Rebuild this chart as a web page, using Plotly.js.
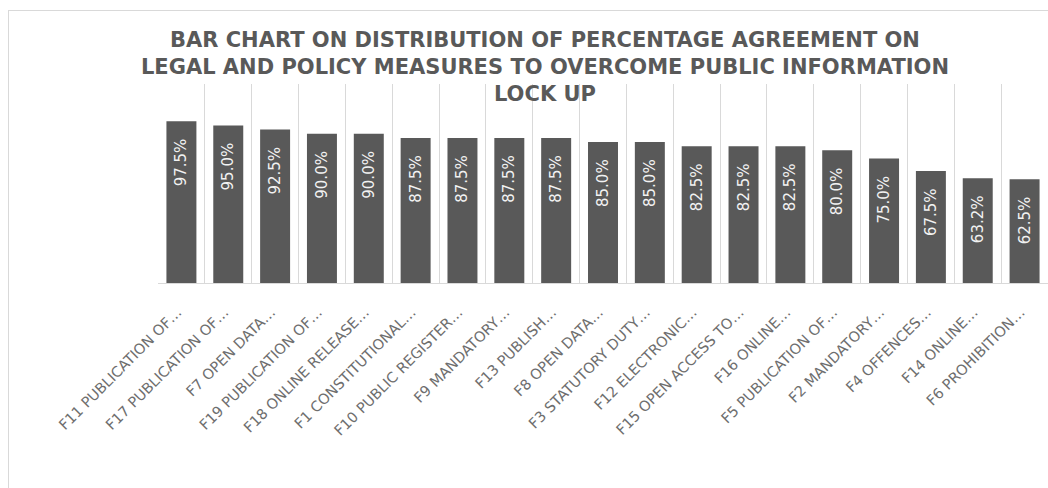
<!DOCTYPE html>
<html>
<head>
<meta charset="utf-8">
<script src="https://cdn.plot.ly/plotly-3.0.1.min.js"></script>
<style>
  html, body { margin: 0; padding: 0; width: 1048px; height: 488px; overflow: hidden; background: #fff; }
  #frame { position: absolute; left: 8px; top: 10px; width: 1100px; height: 600px; border: 1px solid #d9d9d9; box-sizing: border-box; }
  #chart { position: absolute; left: 0; top: 0; width: 1048px; height: 488px; }
</style>
</head>
<body>
<div id="frame"></div>
<div id="chart"></div>
<script>
const categories = [
  "F11 PUBLICATION OF…",
  "F17 PUBLICATION OF…",
  "F7 OPEN DATA…",
  "F19 PUBLICATION OF…",
  "F18 ONLINE RELEASE…",
  "F1 CONSTITUTIONAL…",
  "F10 PUBLIC REGISTER…",
  "F9 MANDATORY…",
  "F13 PUBLISH…",
  "F8 OPEN DATA…",
  "F3 STATUTORY DUTY…",
  "F12 ELECTRONIC…",
  "F15 OPEN ACCESS TO…",
  "F16 ONLINE…",
  "F5 PUBLICATION OF…",
  "F2 MANDATORY…",
  "F4 OFFENCES…",
  "F14 ONLINE…",
  "F6 PROHIBITION…"
];
const agreementPct = [97.5, 95.0, 92.5, 90.0, 90.0, 87.5, 87.5, 87.5, 87.5, 85.0, 85.0, 82.5, 82.5, 82.5, 80.0, 75.0, 67.5, 63.2, 62.5];
const chartTitle = "BAR CHART ON DISTRIBUTION OF PERCENTAGE AGREEMENT ON<br>LEGAL AND POLICY MEASURES TO OVERCOME PUBLIC INFORMATION<br>LOCK UP";

const trace = {
  type: "bar",
  x: categories,
  y: agreementPct,
  marker: { color: "#595959" },
  texttemplate: "%{y:.1f}%\u00A0\u00A0\u00A0",
  textposition: "inside",
  insidetextanchor: "end",
  textangle: -90,
  constraintext: "none",
  textfont: { family: "DejaVu Sans", size: 15, color: "#f2f2f2" },
  hoverinfo: "x+y"
};

const layout = {
  width: 1048,
  height: 488,
  paper_bgcolor: "rgba(0,0,0,0)",
  plot_bgcolor: "rgba(0,0,0,0)",
  margin: { l: 158, r: 0, t: 84, b: 205 },
  bargap: 0.36,
  showlegend: false,
  title: {
    text: chartTitle,
    font: { family: "DejaVu Sans", size: 21, color: "#595959", weight: "bold" },
    x: 0.52, xref: "container", xanchor: "center",
    y: 0.904, yref: "container", yanchor: "top"
  },
  xaxis: {
    type: "category",
    tickangle: -45,
    tickson: "boundaries",
    showgrid: true,
    gridcolor: "#d9d9d9",
    gridwidth: 1,
    showline: true,
    linecolor: "#d9d9d9",
    linewidth: 1,
    ticks: "",
    ticklabelstandoff: 14,
    ticklabelshift: -4,
    tickfont: { family: "DejaVu Sans", size: 14.5, color: "#6e6e6e" },
    automargin: false
  },
  yaxis: {
    range: [0, 120],
    visible: false,
    showgrid: false,
    zeroline: false
  }
};

Plotly.newPlot("chart", [trace], layout, { displayModeBar: false, staticPlot: true });
</script>
</body>
</html>
